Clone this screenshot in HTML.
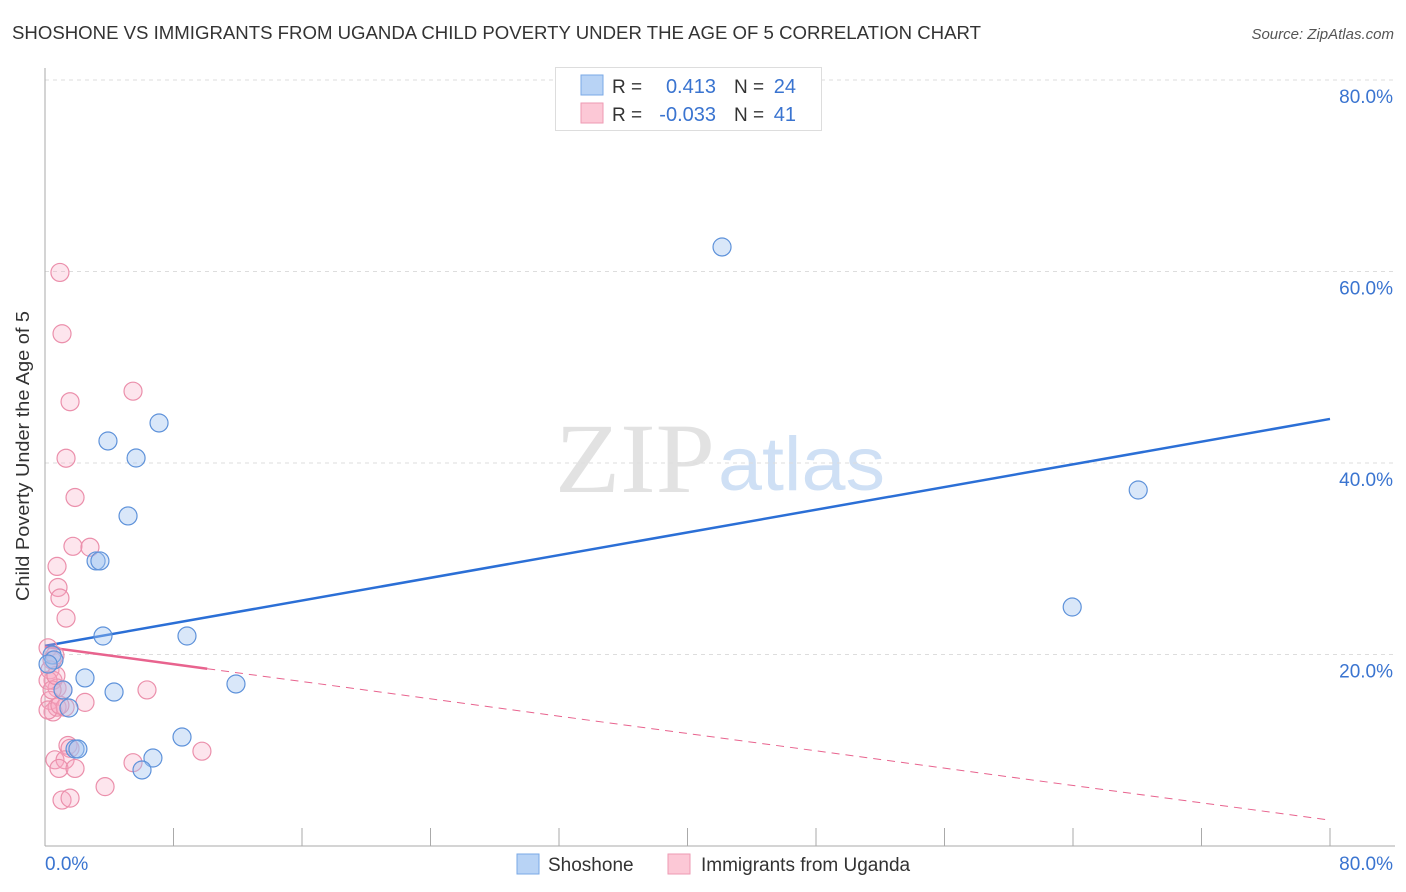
<!DOCTYPE html>
<html><head><meta charset="utf-8">
<style>
body{margin:0;background:#fff;font-family:"Liberation Sans",sans-serif;}
#wrap{position:relative;width:1406px;height:892px;overflow:hidden;}
</style></head>
<body>
<div id="wrap">
<svg id="svg" width="1406" height="892">
<text x="12" y="39" font-size="18" fill="#333" textLength="969" lengthAdjust="spacingAndGlyphs">SHOSHONE VS IMMIGRANTS FROM UGANDA CHILD POVERTY UNDER THE AGE OF 5 CORRELATION CHART</text>
<text x="1394" y="39" font-size="15" fill="#555" font-style="italic" text-anchor="end">Source: ZipAtlas.com</text>
<g>
<text x="555" y="492" font-size="100" font-family="Liberation Serif,serif" fill="#e2e2e2" textLength="160" lengthAdjust="spacingAndGlyphs">ZIP</text>
<text x="718" y="490" font-size="76" fill="#cfe0f5" textLength="167" lengthAdjust="spacingAndGlyphs">atlas</text>
</g>
<g id="grid"></g>
<g id="axes"></g>
<g id="trend"></g>
<g id="pts"></g>
<text x="29" y="456" font-size="18" fill="#333" text-anchor="middle" textLength="290" lengthAdjust="spacingAndGlyphs" transform="rotate(-90 29 456)">Child Poverty Under the Age of 5</text>
<g>
<rect x="555.5" y="67.5" width="266" height="63" fill="#fff" stroke="#ddd"/>
<rect x="581" y="75" width="22" height="20" fill="#b8d3f5" stroke="#7aa8e6"/>
<rect x="581" y="103" width="22" height="20" fill="#fcc8d6" stroke="#ee9ab3"/>
<text x="612" y="93" font-size="19" fill="#333">R =</text>
<text x="716" y="93" font-size="20" fill="#3a74d0" text-anchor="end">0.413</text>
<text x="734" y="93" font-size="19" fill="#333">N =</text>
<text x="796" y="93" font-size="20" fill="#3a74d0" text-anchor="end">24</text>
<text x="612" y="121" font-size="19" fill="#333">R =</text>
<text x="716" y="121" font-size="20" fill="#3a74d0" text-anchor="end">-0.033</text>
<text x="734" y="121" font-size="19" fill="#333">N =</text>
<text x="796" y="121" font-size="20" fill="#3a74d0" text-anchor="end">41</text>
</g>
<g>
<rect x="517" y="854" width="22" height="20" fill="#b8d3f5" stroke="#7aa8e6"/>
<text x="548" y="871" font-size="19" fill="#333">Shoshone</text>
<rect x="668" y="854" width="22" height="20" fill="#fcc8d6" stroke="#ee9ab3"/>
<text x="701" y="871" font-size="19" fill="#333">Immigrants from Uganda</text>
</g>
</svg>
</div>
<script>
const yTicks=[20,40,60,80];
const yTickLabels=["20.0%","40.0%","60.0%","80.0%"];
const xTickCount=10;
const shoX=[42.15,68.06,63.95,7.10,3.92,5.67,5.17,3.18,3.42,3.61,8.84,11.89,2.49,4.30,1.49,1.12,0.44,0.56,1.87,2.05,8.53,6.72,6.04,0.19];
const shoY=[62.56,37.18,24.96,44.18,42.30,40.52,34.47,29.77,29.77,21.93,21.93,16.92,17.55,16.08,14.41,16.29,19.95,19.43,10.13,10.13,11.38,9.19,7.94,19.0];
const ugaX=[0.93,1.06,1.56,5.48,1.31,1.87,1.74,2.80,0.75,0.81,0.93,1.31,0.19,0.44,0.62,0.31,0.50,0.75,1.12,0.31,0.50,0.75,1.25,2.49,6.35,0.62,1.43,1.56,1.25,0.87,1.87,5.48,9.77,3.74,1.06,1.56,0.19,0.44,0.19,0.68,0.93];
const ugaY=[59.9,53.5,46.4,47.5,40.5,36.4,31.3,31.2,29.2,27.0,25.9,23.8,20.7,19.4,19.9,18.4,17.3,16.5,16.3,15.2,14.0,14.5,14.5,15.0,16.3,9.0,10.5,10.2,9.0,8.1,8.1,8.7,9.9,6.2,4.8,5.0,17.3,16.3,14.2,17.8,14.7];
const shoTrend=[20.9,44.6];
const ugaTrend=[20.8,2.7];
const ugaSolidEnd=10.1;

const X0=45,X1=1330,Y0=846,Y80=80;
const sx=v=>X0+(v/80)*(X1-X0);
const sy=v=>Y0-(v/80)*(Y0-Y80);
const NS="http://www.w3.org/2000/svg";
function mk(tag,attrs,parent){const e=document.createElementNS(NS,tag);for(const k in attrs)e.setAttribute(k,attrs[k]);document.getElementById(parent).appendChild(e);return e;}

yTicks.forEach((t,i)=>{
  const g=mk('line',{x1:X0,x2:1395,y1:sy(t),y2:sy(t),stroke:'#ddd','stroke-dasharray':'4,4'},'grid');
  
  
  const l=mk('text',{x:1393,y:sy(t)+23,'font-size':19,fill:'#3a74d0','text-anchor':'end'},'axes');
  l.textContent=yTickLabels[i];
  
  
});
let a=mk('line',{x1:X0,x2:X0,y1:68,y2:Y0,stroke:'#aaa'},'axes');


a=mk('line',{x1:X0,x2:1395,y1:Y0,y2:Y0,stroke:'#aaa'},'axes');


for(let i=1;i<=xTickCount;i++){
  const t=mk('line',{x1:sx(i*8),x2:sx(i*8),y1:828,y2:Y0,stroke:'#aaa'},'axes');
  
  
}
let xl=mk('text',{x:45,y:870,'font-size':19,fill:'#3a74d0'},'axes');xl.textContent='0.0%';


xl=mk('text',{x:1393,y:870,'font-size':19,fill:'#3a74d0','text-anchor':'end'},'axes');xl.textContent='80.0%';



let tl=mk('line',{x1:sx(0),y1:sy(shoTrend[0]),x2:sx(80),y2:sy(shoTrend[1]),stroke:'#2b6fd6','stroke-width':2.5},'trend');


const uAt=x=>ugaTrend[0]+(ugaTrend[1]-ugaTrend[0])*x/80;
tl=mk('line',{x1:sx(0),y1:sy(uAt(0)),x2:sx(ugaSolidEnd),y2:sy(uAt(ugaSolidEnd)),stroke:'#e8638e','stroke-width':2.5},'trend');


tl=mk('line',{x1:sx(ugaSolidEnd),y1:sy(uAt(ugaSolidEnd)),x2:sx(80),y2:sy(uAt(80)),stroke:'#e8638e','stroke-width':1,'stroke-dasharray':'8,6'},'trend');



ugaX.forEach((x,i)=>{
  const c=mk('circle',{cx:sx(x),cy:sy(ugaY[i]),r:9,fill:'rgba(248,170,195,0.3)',stroke:'#eb8fab','stroke-width':1.2},'pts');
  
  
});
shoX.forEach((x,i)=>{
  const c=mk('circle',{cx:sx(x),cy:sy(shoY[i]),r:9,fill:'rgba(160,196,240,0.4)',stroke:'#5e92da','stroke-width':1.2},'pts');
  
  
});
</script>
</body></html>
